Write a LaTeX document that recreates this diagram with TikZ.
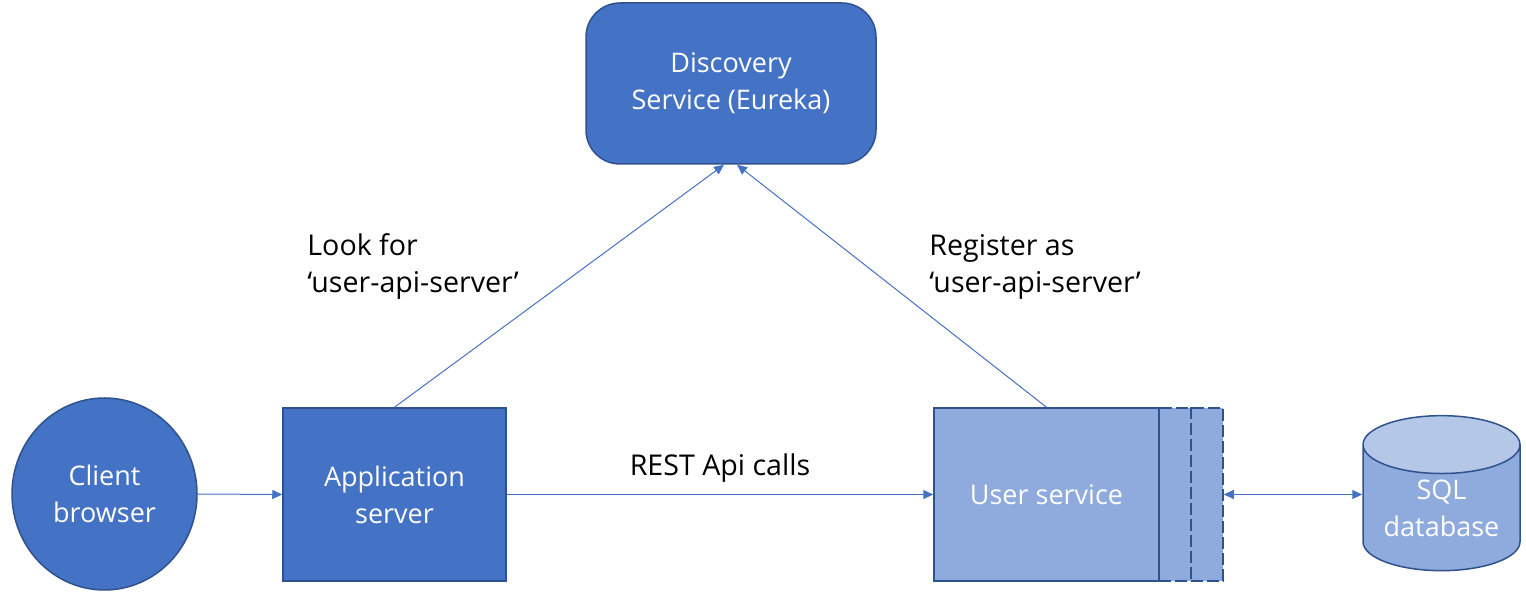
\documentclass[tikz,border=0pt]{standalone}
\usepackage{fontspec}
\setmainfont{Open Sans}
\usetikzlibrary{arrows.meta,shapes.geometric}
\definecolor{boxblue}{RGB}{68,114,196}
\definecolor{edgeblue}{RGB}{47,82,143}
\definecolor{paleblue}{RGB}{143,170,220}
\definecolor{capblue}{RGB}{180,199,231}
\tikzset{
  darkbox/.style={draw=edgeblue, fill=boxblue, line width=0.75pt, text=white, align=center, inner sep=0pt, font=\fontsize{13.5}{18.5}\selectfont},
  lightbox/.style={darkbox, fill=paleblue},
  link/.style={draw=boxblue, line width=0.5pt, -{Triangle[length=5pt,width=4.5pt]}},
  note/.style={anchor=west, align=left, inner sep=0pt, font=\fontsize{14.3}{18.5}\selectfont}
}

\begin{document}
\begin{tikzpicture}[x=0.5pt,y=0.5pt,yscale=-1]
\useasboundingbox (0,0) rectangle (1526,608);

%Shape: Rounded Rectangle [id:disc]
\node (disc) at (731,83.5) [darkbox, rounded corners=17pt, minimum width=145pt, minimum height=80.5pt] {Discovery\\Service (Eureka)};
%Shape: Ellipse [id:client]
\node (client) at (104.5,494) [darkbox, ellipse, minimum width=92.5pt, minimum height=96pt] {Client\\browser};
%Shape: Rectangle [id:app]
\node (app) at (394.5,494.5) [darkbox, minimum width=111.5pt, minimum height=86.5pt] {Application\\server};
%Shape: Rectangle, dashed [id:userx]
\node (userx) at (1191,494.5) [lightbox, dash pattern=on 6pt off 2pt, minimum width=32pt, minimum height=86.5pt] {};
\draw [edgeblue, line width=0.75pt, dash pattern=on 6pt off 2pt] (userx.north) -- (userx.south);
%Shape: Rectangle [id:user]
\node (user) at (1046.5,494.5) [lightbox, minimum width=112.5pt, minimum height=86.5pt] {User service};
%Shape: Can [id:sql]
\node (sql) at (1441.5,508) [lightbox, fill=none, cylinder, shape border rotate=90, aspect=0.5, minimum width=78.5pt, minimum height=77.5pt, cylinder uses custom fill, cylinder body fill=paleblue, cylinder end fill=capblue] {SQL\\database};

%Straight Lines
\draw [link] (client.east) -- (app.west);
%Straight Lines
\draw [link] (app.east) -- (user.west);
%Straight Lines
\draw [link] (app.north) -- ([xshift=-3.5pt]disc.south);
%Straight Lines
\draw [link] (user.north) -- ([xshift=3pt]disc.south);
%Straight Lines
\draw [link, {Triangle[length=5pt,width=4.5pt]}-{Triangle[length=5pt,width=4.5pt]}] (userx.east) -- (userx.east -| sql.west);

% Text Node
\node (lookfor) at (307,266.5) [note] {Look for\\‘user-api-server’};
% Text Node
\node (register) at (929,266.5) [note] {Register as\\‘user-api-server’};
% Text Node
\node (rest) at (720,468) [note, anchor=center] {REST Api calls};

\end{tikzpicture}
\end{document}
